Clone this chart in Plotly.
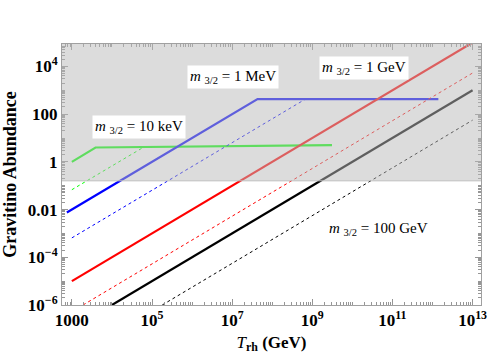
import numpy as np
import plotly.graph_objects as go

# (log-log)
t_green = [1e3, 3.9e3, 3.1e9]
y_green = [1.0, 4.0, 5.0]
t_green_d = [1e3, 6.0e4]
y_green_d = [0.068, 4.0]

t_blue = [750, 4.3e7, 1.4e12]
y_blue = [7.5e-3, 430, 430]
t_blue_d = [1e3, 6.8e8]
y_blue_d = [6.5e-4, 430]

t_red = [1e3, 1e13]
y_red = [1e-5, 1e5]
t_red_d = [1.9e3, 1e13]
y_red_d = [1e-6, 5.3e3]

t_black = [1e4, 1e13]
y_black = [1e-6, 1e3]
t_black_d = [1.8e5, 1e13]
y_black_d = [1e-6, 56]

bound = 0.16  # shaded (excluded) region starts here

x_ticks = [1e3, 1e5, 1e7, 1e9, 1e11, 1e13]
x_labels = ["1000", "10<sup>5</sup>", "10<sup>7</sup>", "10<sup>9</sup>",
            "10<sup>11</sup>", "10<sup>13</sup>"]
y_ticks = [1e-6, 1e-4, 1e-2, 1, 100, 1e4]
y_labels = ["10<sup>\u22126</sup>", "10<sup>\u22124</sup>", "0.01", "1", "100",
            "10<sup>4</sup>"]

labels = [
    ("10 keV", 4.67, 1.47),
    ("1 MeV", 7.03, 3.54),
    ("1 GeV", 10.28, 3.95),
    ("100 GeV", 10.65, -2.83),
]

SERIF = "Liberation Serif, Times New Roman, serif"


def minor_vals(lo, hi, majors):
    out = []
    for n in range(lo, hi):
        for k in range(1, 10):
            v = k * 10.0 ** n
            if not any(abs(v - m) / m < 1e-9 for m in majors):
                out.append(v)
    return out


fig = go.Figure()

series = [
    (t_green, y_green, "rgb(0,255,0)", "solid", 2.2),
    (t_green_d, y_green_d, "rgb(0,255,0)", "3px,3px", 1),
    (t_blue, y_blue, "rgb(0,0,255)", "solid", 2.2),
    (t_blue_d, y_blue_d, "rgb(0,0,255)", "3px,3px", 1),
    (t_red, y_red, "rgb(255,0,0)", "solid", 2.2),
    (t_red_d, y_red_d, "rgb(255,0,0)", "3px,3px", 1),
    (t_black, y_black, "black", "solid", 2.2),
    (t_black_d, y_black_d, "black", "3px,3px", 1),
]
for tx, ty, col, dash, w in series:
    fig.add_trace(go.Scatter(
        x=tx, y=ty, mode="lines",
        line=dict(color=col, dash=dash, width=w),
        showlegend=False, hoverinfo="skip",
    ))

# translucent grey overlay above the bound
fig.add_shape(
    type="rect", xref="paper", x0=0, x1=1, yref="y", y0=bound, y1=1e6,
    fillcolor="rgb(186,186,186)", opacity=0.51, line=dict(width=0),
    layer="above",
)
fig.add_shape(
    type="line", xref="paper", x0=0, x1=1, yref="y", y0=bound, y1=bound,
    line=dict(color="rgb(190,190,190)", width=1), layer="above",
)

for txt, lx, ly in labels:
    fig.add_annotation(
        x=lx, y=ly, xref="x", yref="y", showarrow=False,
        text=f"<i>m</i> <sub>3/2</sub> = {txt}",
        font=dict(family=SERIF, size=15, color="black"),
        bgcolor="white", borderpad=2,
    )

axis_common = dict(
    type="log", showgrid=False, zeroline=False,
    showline=True, linecolor="rgb(160,160,160)", linewidth=1, mirror="ticks",
    ticks="inside", ticklen=6, tickcolor="rgb(150,150,150)",
    tickfont=dict(family=SERIF, size=17, color="black", weight="bold"),
)

fig.update_layout(
    width=496, height=357,
    margin=dict(l=62, r=9, t=44, b=49),
    paper_bgcolor="white", plot_bgcolor="white",
    xaxis=dict(
        **axis_common,
        range=[2.754, 13.21],
        tickmode="array", tickvals=x_ticks, ticktext=x_labels,
        minor=dict(tickmode="array", tickvals=minor_vals(2, 14, x_ticks),
                   ticks="inside", ticklen=3, tickcolor="rgb(150,150,150)"),
        title=dict(text="<i>T</i><sub><b>rh</b></sub> <b>(GeV)</b>",
                   font=dict(family=SERIF, size=17, color="black"), standoff=6),
    ),
    yaxis=dict(
        **axis_common,
        range=[-6, 4.94],
        tickmode="array", tickvals=y_ticks, ticktext=y_labels,
        minor=dict(tickmode="array", tickvals=minor_vals(-6, 5, y_ticks),
                   ticks="inside", ticklen=3, tickcolor="rgb(150,150,150)"),
        title=dict(text="<b>Gravitino Abundance</b>",
                   font=dict(family=SERIF, size=18, color="black"), standoff=6),
    ),
)

# drop the default 8px page margin so the figure sits at the window corner
fig.write_html("out.html", config={"displayModeBar": False},
               post_script="document.body.style.margin='0';")
